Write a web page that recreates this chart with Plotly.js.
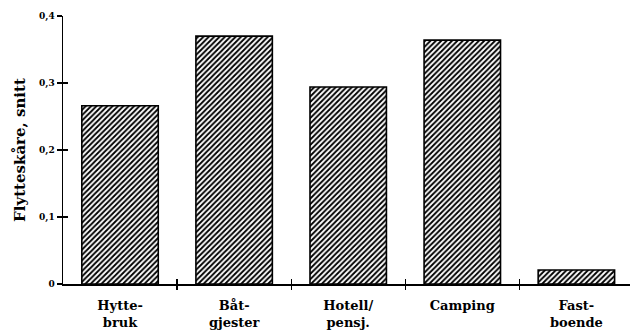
<!DOCTYPE html>
<html>
<head>
<meta charset="utf-8">
<script src="https://cdn.plot.ly/plotly-3.0.1.min.js"></script>
<style>html,body{margin:0;padding:0;background:#fff;}#chart{width:630px;height:335px;}</style>
</head>
<body>
<div id="chart"></div>
<script>
const categories = ['Hytte-<br>bruk', 'Båt-<br>gjester', 'Hotell/<br>pensj.', 'Camping', 'Fast-<br>boende'];
const values = [0.266, 0.370, 0.294, 0.364, 0.021];
const yTickVals = [0, 0.1, 0.2, 0.3, 0.4];
const yTickText = ['0', '0,1', '0,2', '0,3', '0,4'];
const yTitle = 'Flytteskåre, snitt';

const serif = 'DejaVu Serif, Liberation Serif, serif';
const boundaries = categories.slice(1).map((_, i) => i + 0.5);

const trace = {
  type: 'bar',
  x: categories,
  y: values,
  marker: {
    color: '#ffffff',
    line: {color: '#000', width: 1.6},
    pattern: {shape: '/', fgcolor: '#000', bgcolor: '#fff', size: 3.8, solidity: 0.5}
  },
  hoverinfo: 'skip'
};

const layout = {
  width: 630, height: 335,
  margin: {l: 63, r: 0, t: 16, b: 51},
  paper_bgcolor: '#fff', plot_bgcolor: '#fff',
  showlegend: false,
  bargap: 0.33,
  xaxis: {
    type: 'category',
    range: [-0.5, 4.47],
    showline: true, linecolor: '#000', linewidth: 1.5,
    ticks: '', showgrid: false, zeroline: false,
    tickfont: {family: serif, size: 13, color: '#000', weight: 'bold'},
    ticklabelstandoff: 9
  },
  xaxis2: {
    overlaying: 'x', anchor: 'y', side: 'bottom',
    type: 'linear', range: [-0.5, 4.47],
    tickmode: 'array', tickvals: boundaries,
    ticks: 'inside', ticklen: 5, tickwidth: 1.3, tickcolor: '#000',
    showticklabels: false, showline: false, showgrid: false, zeroline: false
  },
  xaxis3: {
    overlaying: 'x', anchor: 'y', side: 'bottom',
    type: 'linear', range: [-0.5, 4.47],
    tickmode: 'array', tickvals: boundaries,
    ticks: 'outside', ticklen: 5, tickwidth: 1.3, tickcolor: '#000',
    showticklabels: false, showline: false, showgrid: false, zeroline: false
  },
  yaxis: {
    range: [0, 0.4],
    showline: true, linecolor: '#000', linewidth: 1.5,
    tickmode: 'array', tickvals: yTickVals, ticktext: yTickText,
    ticks: 'outside', ticklen: 5, tickwidth: 1.3, tickcolor: '#000',
    showgrid: false, zeroline: false,
    tickfont: {family: serif, size: 9, color: '#000', weight: 'bold'},
    title: {text: yTitle, font: {family: serif, size: 15, color: '#000', weight: 'bold'}, standoff: 10}
  },
  yaxis2: {
    overlaying: 'y', anchor: 'x', side: 'left',
    range: [0, 0.4],
    tickmode: 'array', tickvals: yTickVals,
    ticks: 'inside', ticklen: 5, tickwidth: 1.3, tickcolor: '#000',
    showticklabels: false, showline: false, showgrid: false, zeroline: false
  }
};

const dummy2 = {type: 'scatter', x: [], y: [], xaxis: 'x2', yaxis: 'y', hoverinfo: 'skip'};
const dummy3 = {type: 'scatter', x: [], y: [], xaxis: 'x3', yaxis: 'y', hoverinfo: 'skip'};
const dummyY = {type: 'scatter', x: [], y: [], xaxis: 'x', yaxis: 'y2', hoverinfo: 'skip'};

Plotly.newPlot('chart', [trace, dummy2, dummy3, dummyY], layout, {staticPlot: true, displayModeBar: false});
</script>
</body>
</html>
